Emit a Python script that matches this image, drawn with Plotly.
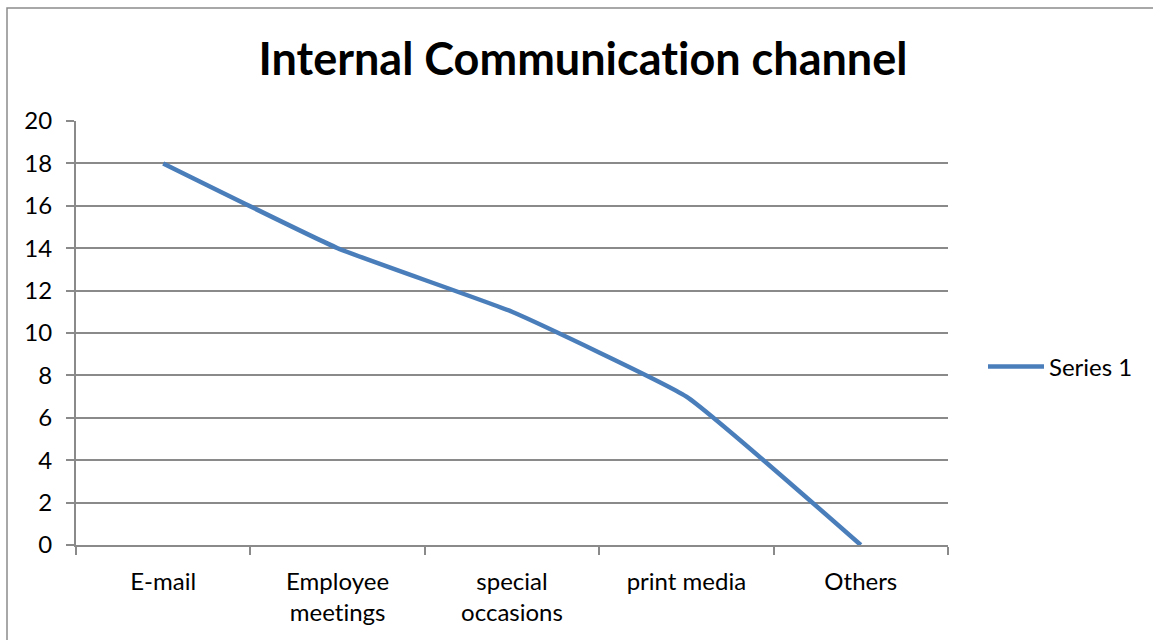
import plotly.graph_objects as go

categories = ["E-mail", "Employee meetings", "special occasions", "print media", "Others"]
tick_labels = ["E-mail", "Employee<br>meetings", "special<br>occasions", "print media", "Others"]
values = [18, 14, 11, 7, 0]
series_name = "Series 1"
title_text = "Internal Communication channel"
y_ticks = [0, 2, 4, 6, 8, 10, 12, 14, 16, 18, 20]

W, H = 1153, 640
L, R, T, B = 76, 205, 121, 95

FONT = "Lato, 'Open Sans', sans-serif"
GRID = "#8A8A8A"
LINE = "#4A7EBB"

fig = go.Figure()
fig.add_trace(go.Scatter(
    x=categories, y=values, mode="lines", name=series_name,
    line=dict(color=LINE, width=4.5, shape="spline", smoothing=0.35),
))

pw = W - L - R
ph = H - T - B

def px_x(p):
    return (p - L) / pw

def px_y(p):
    return (H - B - p) / ph

fig.update_layout(
    width=W, height=H,
    margin=dict(l=L, r=R, t=T, b=B, autoexpand=False),
    paper_bgcolor="white", plot_bgcolor="white",
    font=dict(family=FONT, color="#000000", size=24),
    title=dict(text="<b>" + title_text + "</b>", x=583 / W, xanchor="center",
               y=1 - 59 / H, yanchor="middle", xref="container",
               yref="container", font=dict(family=FONT, size=45, color="#000000")),
    showlegend=True,
    legend=dict(x=px_x(983), y=px_y(367), xanchor="left", yanchor="middle",
                font=dict(family=FONT, size=24, color="#000000"),
                bgcolor="rgba(0,0,0,0)", itemwidth=56, tracegroupgap=0),
    xaxis=dict(
        type="category", categoryorder="array", categoryarray=categories,
        tickmode="array", tickvals=categories, ticktext=tick_labels,
        range=[-0.5, len(categories) - 0.5],
        showgrid=False, zeroline=False,
        showline=True, linecolor=GRID, linewidth=2,
        ticks="outside", tickson="boundaries", ticklen=8, tickcolor=GRID, tickwidth=2,
        tickfont=dict(family=FONT, size=24, color="#000000"),
        ticklabelstandoff=14,
        automargin=False,
    ),
    yaxis=dict(
        range=[0, 20], tickmode="array", tickvals=y_ticks,
        showgrid=True, gridcolor=GRID, gridwidth=2,
        zeroline=False,
        showline=True, linecolor=GRID, linewidth=2,
        ticks="outside", ticklen=8, tickcolor=GRID, tickwidth=2,
        tickfont=dict(family=FONT, size=24, color="#000000"),
        ticklabelstandoff=9,
        automargin=False,
    ),
    shapes=[dict(type="rect", xref="paper", yref="paper",
                 x0=px_x(7), x1=px_x(1170), y0=px_y(660), y1=px_y(8),
                 line=dict(color="#8C8C8C", width=1.5), fillcolor="rgba(0,0,0,0)",
                 layer="below")],
)

no_liga = ("var s=document.createElement('style');"
           "s.textContent='svg text{font-variant-ligatures:none !important;"
           "font-feature-settings:\"liga\" 0 !important;}';"
           "document.head.appendChild(s);")

fig.write_html("out.html", post_script=no_liga)
